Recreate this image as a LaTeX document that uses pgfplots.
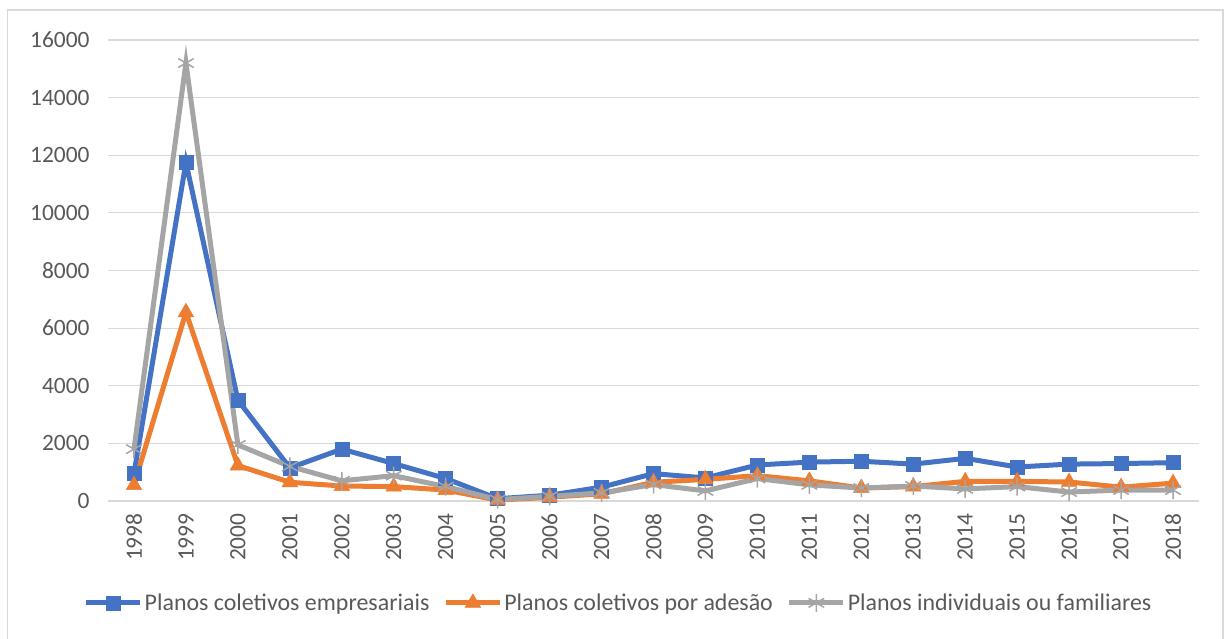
\documentclass[border=0pt]{standalone}
\usepackage{pgfplots}
\pgfplotsset{compat=1.18}
\usepackage{fontspec}
\setmainfont{Carlito}
\definecolor{cblue}{HTML}{4472C4}
\definecolor{corange}{HTML}{ED7D31}
\definecolor{cgrey}{HTML}{A5A5A5}
\definecolor{cgrid}{HTML}{D9D9D9}
\definecolor{ctext}{HTML}{595959}
\pgfplotstableread{
year emp ades ind
1998 950 550 1800
1999 11750 6550 15200
2000 3500 1230 1950
2001 1150 650 1200
2002 1800 520 700
2003 1300 500 880
2004 780 380 500
2005 80 30 50
2006 200 130 160
2007 480 250 280
2008 950 650 570
2009 800 750 350
2010 1250 880 780
2011 1350 700 560
2012 1380 450 450
2013 1280 500 520
2014 1480 680 420
2015 1180 680 500
2016 1280 660 310
2017 1300 480 380
2018 1330 620 380
}\datatab
\begin{document}
\begin{tikzpicture}
\useasboundingbox (0bp,0bp) rectangle (1226bp,639bp);
\draw[cgrid, line width=1.2bp] (7.5bp,-5bp) rectangle (1223bp,629bp);
\begin{axis}[
  at={(108bp,138bp)}, anchor=south west,
  scale only axis, width=1091bp, height=461bp,
  xmin=1997.5, xmax=2018.5, ymin=0, ymax=16000,
  scaled y ticks=false,
  xtick={1998,...,2018},
  xticklabels={1998,1999,2000,2001,2002,2003,2004,2005,2006,2007,2008,2009,2010,2011,2012,2013,2014,2015,2016,2017,2018},
  ytick={0,2000,...,16000},
  yticklabels={0,2000,4000,6000,8000,10000,12000,14000,16000},
  major tick length=0,
  axis line style={draw=none},
  ymajorgrids, grid style={cgrid, line width=1.2bp},
  tick label style={font=\fontsize{23.5}{26}\selectfont, text=ctext},
  xticklabel style={rotate=90, anchor=east},
  xticklabel shift=9bp,
  yticklabel style={anchor=east},
  yticklabel shift=15bp,
  legend style={at={(0.468,-0.221)}, anchor=center, draw=none, fill=none,
    legend columns=3, font=\fontsize{24}{27}\selectfont, text=ctext,
    inner sep=0pt,
    /tikz/every odd column/.append style={inner xsep=1bp},
    /tikz/every even column/.append style={column sep=12bp}},
  legend image code/.code={\draw[mark repeat=2,mark phase=2] plot coordinates {(0bp,0bp) (27bp,0bp) (54bp,0bp)};},
  every axis plot/.append style={line width=5bp},
  clip=false,
]
\addplot[cblue, mark=square*, mark size=7bp, mark options={line width=0.5bp}] table[x=year,y=emp] {\datatab};
\addlegendentry{Planos coletivos empresariais}
\addplot[corange, mark=triangle*, mark size=9bp, mark options={line width=0.5bp}] table[x=year,y=ades] {\datatab};
\addlegendentry{Planos coletivos por adesão}
\addplot[cgrey, mark=asterisk, mark size=9bp, mark options={line width=1.5bp}] table[x=year,y=ind] {\datatab};
\addlegendentry{Planos individuais ou familiares}
\end{axis}
\end{tikzpicture}
\end{document}
